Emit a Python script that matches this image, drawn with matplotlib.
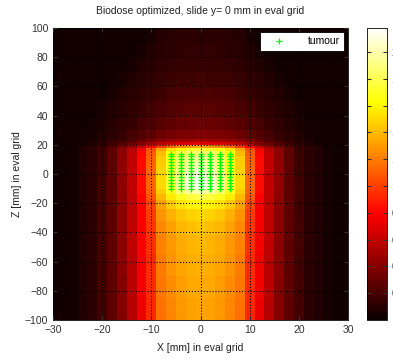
import numpy as np
import matplotlib
matplotlib.use("Agg")
import matplotlib.pyplot as plt

plt.rcParams['font.family'] = ['Liberation Sans', 'DejaVu Sans']

# eval grid: 2 mm columns, rows of varying height (mm)
x_edges = np.arange(-31, 32, 2)
z_edges = [-100, -85, -70, -55, -42, -32, -24, -18, -14, -10, -4, 0, 4, 8,
           12, 16, 18, 20, 22, 24, 30, 40, 50, 60, 70, 80, 90, 100]

# half profiles of the biodose, x = 0, 2, ..., 30 mm, one per row (bottom -> top)
half_rows = [
    [1.33, 1.32, 1.29, 1.23, 1.16, 0.92, 0.74, 0.56, 0.40, 0.27, 0.18, 0.11, 0.07, 0.04, 0.03, 0.03],
    [1.35, 1.34, 1.31, 1.25, 1.18, 0.93, 0.75, 0.57, 0.40, 0.27, 0.18, 0.11, 0.07, 0.04, 0.03, 0.03],
    [1.37, 1.36, 1.33, 1.27, 1.20, 0.94, 0.75, 0.57, 0.41, 0.28, 0.19, 0.11, 0.07, 0.04, 0.03, 0.03],
    [1.40, 1.38, 1.35, 1.29, 1.22, 0.95, 0.76, 0.58, 0.41, 0.28, 0.19, 0.11, 0.07, 0.04, 0.03, 0.03],
    [1.44, 1.42, 1.39, 1.32, 1.24, 0.97, 0.77, 0.58, 0.42, 0.28, 0.19, 0.11, 0.07, 0.04, 0.03, 0.03],
    [1.50, 1.48, 1.44, 1.37, 1.27, 0.99, 0.78, 0.58, 0.42, 0.28, 0.18, 0.11, 0.07, 0.04, 0.03, 0.03],
    [1.61, 1.59, 1.54, 1.45, 1.32, 1.03, 0.79, 0.58, 0.42, 0.28, 0.18, 0.11, 0.07, 0.04, 0.03, 0.03],
    [1.79, 1.76, 1.69, 1.56, 1.39, 1.07, 0.80, 0.58, 0.42, 0.28, 0.18, 0.11, 0.07, 0.04, 0.03, 0.03],
    [2.01, 1.96, 1.86, 1.68, 1.46, 1.11, 0.82, 0.59, 0.43, 0.28, 0.18, 0.11, 0.07, 0.04, 0.03, 0.03],
    [2.18, 2.11, 1.96, 1.74, 1.50, 1.13, 0.83, 0.59, 0.44, 0.28, 0.19, 0.11, 0.07, 0.04, 0.03, 0.03],
    [2.14, 2.08, 1.94, 1.73, 1.50, 1.14, 0.83, 0.59, 0.44, 0.28, 0.18, 0.11, 0.07, 0.04, 0.03, 0.03],
    [2.09, 2.03, 1.90, 1.70, 1.48, 1.13, 0.83, 0.59, 0.44, 0.28, 0.17, 0.11, 0.07, 0.04, 0.03, 0.03],
    [2.03, 1.98, 1.88, 1.69, 1.47, 1.12, 0.83, 0.59, 0.44, 0.28, 0.17, 0.11, 0.07, 0.04, 0.03, 0.03],
    [1.96, 1.92, 1.84, 1.66, 1.45, 1.11, 0.82, 0.59, 0.43, 0.28, 0.17, 0.11, 0.07, 0.04, 0.03, 0.03],
    [1.87, 1.84, 1.77, 1.62, 1.41, 1.09, 0.81, 0.58, 0.42, 0.28, 0.17, 0.11, 0.07, 0.04, 0.03, 0.03],
    [1.74, 1.72, 1.66, 1.53, 1.33, 1.05, 0.78, 0.57, 0.41, 0.27, 0.17, 0.11, 0.07, 0.04, 0.03, 0.03],
    [1.35, 1.31, 1.24, 1.13, 0.98, 0.81, 0.61, 0.46, 0.35, 0.24, 0.16, 0.11, 0.07, 0.04, 0.03, 0.03],
    [0.72, 0.70, 0.68, 0.63, 0.57, 0.48, 0.39, 0.32, 0.24, 0.17, 0.12, 0.08, 0.04, 0.03, 0.03, 0.03],
    [0.52, 0.51, 0.49, 0.46, 0.41, 0.36, 0.29, 0.23, 0.17, 0.13, 0.09, 0.05, 0.03, 0.03, 0.03, 0.03],
    [0.39, 0.38, 0.37, 0.35, 0.32, 0.27, 0.23, 0.19, 0.14, 0.11, 0.08, 0.05, 0.03, 0.03, 0.03, 0.03],
    [0.32, 0.31, 0.29, 0.27, 0.25, 0.22, 0.19, 0.15, 0.12, 0.09, 0.06, 0.04, 0.03, 0.03, 0.03, 0.03],
    [0.26, 0.26, 0.24, 0.23, 0.21, 0.19, 0.15, 0.12, 0.10, 0.07, 0.05, 0.03, 0.03, 0.03, 0.03, 0.03],
    [0.22, 0.22, 0.21, 0.20, 0.17, 0.15, 0.12, 0.10, 0.08, 0.05, 0.03, 0.03, 0.03, 0.03, 0.03, 0.03],
    [0.19, 0.17, 0.17, 0.16, 0.14, 0.12, 0.10, 0.08, 0.05, 0.03, 0.03, 0.03, 0.03, 0.03, 0.03, 0.03],
    [0.15, 0.15, 0.14, 0.13, 0.12, 0.10, 0.08, 0.05, 0.03, 0.03, 0.03, 0.03, 0.03, 0.03, 0.03, 0.03],
    [0.13, 0.13, 0.12, 0.11, 0.10, 0.08, 0.05, 0.03, 0.03, 0.03, 0.03, 0.03, 0.03, 0.03, 0.03, 0.03],
    [0.11, 0.11, 0.11, 0.10, 0.09, 0.05, 0.03, 0.03, 0.03, 0.03, 0.03, 0.03, 0.03, 0.03, 0.03, 0.03],
]

# tumour voxel positions (mm)
tumour_x = [-6, -4, -2, 0, 2, 4, 6]
tumour_z = [-10, -8, -6, -4, -2, 0, 2, 4, 6, 8, 10, 12, 14]

cbar_ticks = [0.2, 0.4, 0.6, 0.8, 1.0, 1.2, 1.4, 1.6, 1.8, 2.0]
cbar_labels = ['0.2', '0.4', '0.6', '0.8', '1', '1.2', '1.4', '1.6', '1.8', '2']
dose_max = 2.18

# mirror half profiles to full rows
dose = np.array([r[::-1] + r[1:] for r in half_rows])

fig = plt.figure(figsize=(3.93, 3.59), dpi=100)
ax = fig.add_axes([0.1349, 0.1086, 0.7506, 0.8134])

mesh = ax.pcolormesh(x_edges, z_edges, dose, cmap='hot', vmin=0, vmax=dose_max,
                     shading='flat')

tx, tz = np.meshgrid(tumour_x, tumour_z)
ax.plot(tx.ravel(), tz.ravel(), '+', color='#00ff00', ms=5, mew=0.9,
        ls='none', label='tumour')

ax.set_xlim(-30, 30)
ax.set_ylim(-100, 100)
ax.set_xticks(range(-30, 31, 10))
ax.set_yticks(range(-100, 101, 20))
ax.grid(True, color='black', linestyle=':', linewidth=0.8)
ax.set_axisbelow(False)
ax.tick_params(direction='in', length=3, labelsize=7.5, colors='#333333',
               top=True, right=True)
for s in ax.spines.values():
    s.set_linewidth(0.6)

ax.set_title('Biodose optimized, slide y= 0 mm in eval grid', fontsize=7.5, pad=10,
             color='#222222')
ax.set_xlabel('X [mm] in eval grid', fontsize=7.5, labelpad=6, color='#222222')
ax.set_ylabel('Z [mm] in eval grid', fontsize=7.5, labelpad=2, color='#222222')

leg = ax.legend(loc='upper right', fontsize=7.5, fancybox=False, framealpha=1,
                edgecolor='black', handlelength=3, borderaxespad=0.4,
                handletextpad=1.2, borderpad=0.4)
leg.get_frame().set_linewidth(0.6)

# colorbar labels run off the right edge, as in the original figure
cax = fig.add_axes([0.9338, 0.1086, 0.0509, 0.8134])
cb = fig.colorbar(mesh, cax=cax, ticks=cbar_ticks)
cb.ax.set_yticklabels(cbar_labels)
cb.ax.tick_params(direction='in', length=3, left=True, right=True,
                  labelsize=7.5, pad=3, colors='#333333')
cb.outline.set_linewidth(0.6)

fig.savefig('out.png', dpi=100)
